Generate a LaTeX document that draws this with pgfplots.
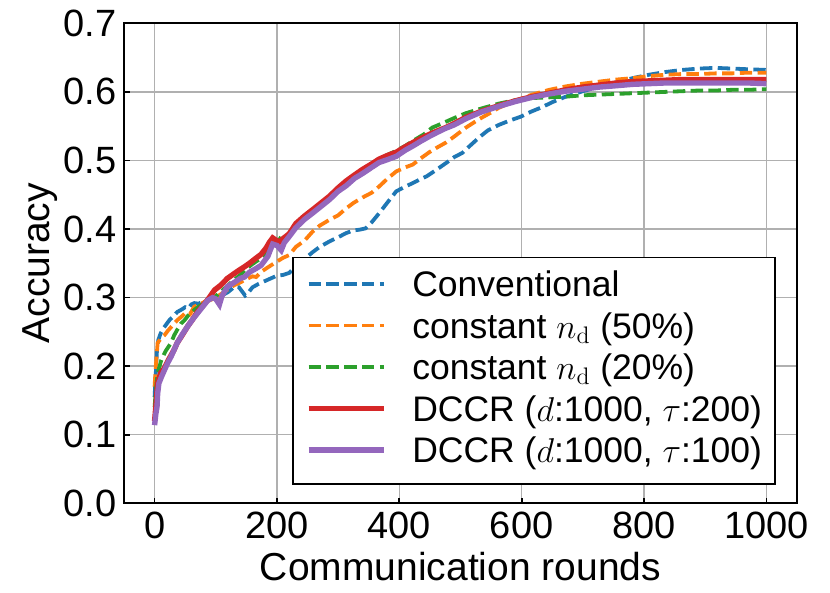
\documentclass[border=0pt]{standalone}
\usepackage{pgfplots}
\pgfplotsset{compat=1.18}
\usepackage[no-math]{fontspec}
\setmainfont{Liberation Sans}
\definecolor{tabblue}{HTML}{1F77B4}
\definecolor{taborange}{HTML}{FF7F0E}
\definecolor{tabgreen}{HTML}{2CA02C}
\definecolor{tabred}{HTML}{D62728}
\definecolor{tabpurple}{HTML}{9467BD}
\definecolor{gridgray}{HTML}{B0B0B0}
\begin{document}
\begin{tikzpicture}
\useasboundingbox (-62bp,-44.85bp) rectangle (353bp,251.65bp);
\begin{axis}[
  scale only axis,
  width=336.5bp, height=240bp,
  xmin=-50, xmax=1050, ymin=0, ymax=0.7,
  xtick={0,200,400,600,800,1000},
  ytick={0,0.1,0.2,0.3,0.4,0.5,0.6,0.7},
  xtick pos=lower, ytick pos=left,
  tick align=inside,
  major tick length=2.8bp,
  every tick/.style={black, line width=0.9bp},
  axis line style={black, line width=1bp},
  grid=major,
  major grid style={gridgray, line width=0.75bp},
  tick label style={font=\fontsize{19bp}{22bp}\selectfont},
  xticklabel style={anchor=north, inner sep=0pt, yshift=-4.2bp},
  yticklabel style={anchor=east, inner sep=0pt, xshift=-3.5bp},
  /pgf/number format/assume math mode=true,
  /pgf/number format/1000 sep={},
  yticklabel style={/pgf/number format/.cd, fixed, fixed zerofill, precision=1},
  every axis x label/.style={at={(axis description cs:0.5,-0.1598)}, anchor=base, font=\fontsize{19.5bp}{22bp}\selectfont},
  every axis y label/.style={at={(axis description cs:-0.110,0.5)}, anchor=base, rotate=90, font=\fontsize{19.5bp}{22bp}\selectfont},
  xlabel={Communication rounds},
  ylabel={Accuracy},
  legend cell align=left,
  legend style={
    at={(axis description cs:0.2492,0.038)}, anchor=south west,
    draw=black, line width=0.9bp, fill=white,
    font=\fontsize{17.75bp}{20bp}\selectfont,
    inner xsep=6.65bp, inner ysep=4.8bp,
    column sep=13bp, row sep=0pt,
    cells={anchor=base west},
    nodes={inner sep=0pt, text height=14.8bp, text depth=5.95bp},
  },
  legend image code/.code={\draw[#1] (0bp,6.3bp) -- (37.5bp,6.3bp);},
  dashline/.style={line width=1.9bp, dash pattern=on 6.2bp off 2.7bp},
  solidline/.style={line width=2.7bp},
]
\addplot[tabblue, dashline] coordinates {
(0,0.155) (2,0.19) (4,0.225) (6,0.238) (10,0.248) (15,0.256) (20,0.262) (25,0.268)
(30,0.272) (37,0.279) (45,0.283) (50,0.286) (55,0.284) (60,0.290) (65,0.292) (72,0.291)
(80,0.295) (90,0.297) (100,0.300) (110,0.303) (120,0.308) (131,0.316) (138,0.315)
(143,0.309) (148,0.303) (153,0.307) (160,0.315) (170,0.320) (180,0.324) (190,0.328)
(200,0.332) (210,0.333) (220,0.336) (230,0.345) (240,0.352) (250,0.360) (258,0.366)
(270,0.374) (286,0.382) (300,0.388) (313,0.394) (325,0.398) (335,0.399) (345,0.401)
(355,0.410) (367,0.423) (380,0.438) (395,0.455) (410,0.462) (422,0.467) (435,0.473)
(445,0.477) (460,0.486) (476,0.496) (490,0.505) (503,0.511) (515,0.521) (531,0.534)
(545,0.544) (563,0.552) (580,0.558) (599,0.564) (615,0.571) (634,0.578) (650,0.585)
(672,0.593) (700,0.601) (727,0.608) (755,0.614) (781,0.620) (808,0.625) (835,0.629)
(862,0.632) (890,0.634) (917,0.635) (944,0.634) (970,0.633) (1000,0.632)
};
\addlegendentry{Conventional}
\addplot[taborange, dashline] coordinates {
(0,0.170) (2,0.200) (5,0.234) (10,0.240) (16,0.245) (22,0.252) (30,0.260) (37,0.267)
(45,0.273) (52,0.279) (58,0.276) (65,0.287) (72,0.289) (82,0.294) (90,0.296) (100,0.300)
(110,0.306) (120,0.312) (130,0.318) (140,0.322) (150,0.327) (160,0.331) (166,0.330)
(175,0.338) (185,0.344) (199,0.352) (210,0.358) (220,0.362) (231,0.374) (245,0.383)
(258,0.396) (270,0.405) (285,0.413) (300,0.420) (313,0.430) (325,0.438) (340,0.446)
(355,0.453) (367,0.462) (380,0.473) (395,0.484) (410,0.490) (422,0.494) (435,0.503)
(449,0.512) (462,0.519) (476,0.526) (490,0.535) (509,0.548) (530,0.560) (550,0.570)
(563,0.577) (590,0.587) (617,0.596) (645,0.603) (672,0.608) (700,0.612) (727,0.615)
(755,0.618) (781,0.620) (808,0.623) (835,0.625) (862,0.626) (890,0.626) (917,0.627)
(944,0.627) (970,0.628) (1000,0.628)
};
\addlegendentry{constant $n_\mathrm{d}$ (50\%)}
\addplot[tabgreen, dashline] coordinates {
(0,0.140) (2,0.165) (5,0.190) (11,0.209) (18,0.222) (27,0.234) (32,0.245) (37,0.253)
(43,0.262) (49,0.267) (55,0.274) (65,0.282) (72,0.287) (82,0.292) (90,0.297) (100,0.302)
(110,0.310) (120,0.318) (130,0.326) (140,0.333) (150,0.342) (160,0.349) (170,0.355)
(180,0.362) (190,0.371) (200,0.378) (205,0.386) (210,0.383) (220,0.392) (231,0.404)
(245,0.415) (258,0.425) (272,0.436) (286,0.446) (300,0.457) (313,0.467) (327,0.477)
(340,0.486) (355,0.494) (367,0.502) (380,0.508) (395,0.514) (411,0.522) (425,0.530)
(440,0.538) (454,0.548) (470,0.554) (490,0.562) (509,0.569) (535,0.576) (563,0.583)
(590,0.588) (617,0.591) (645,0.592) (672,0.593) (700,0.595) (727,0.596) (755,0.597)
(781,0.598) (808,0.599) (835,0.600) (862,0.601) (890,0.602) (917,0.602) (944,0.603)
(970,0.603) (1000,0.604)
};
\addlegendentry{constant $n_\mathrm{d}$ (20\%)}
\addplot[tabred, solidline] coordinates {
(0,0.120) (2,0.140) (5,0.175) (10,0.190) (16,0.197) (22,0.208) (27,0.216) (32,0.224)
(37,0.234) (45,0.245) (54,0.258) (62,0.268) (70,0.279) (78,0.287) (87,0.297) (98,0.311)
(108,0.318) (119,0.328) (130,0.335) (140,0.341) (147,0.345) (155,0.350) (165,0.357)
(174,0.363) (182,0.372) (188,0.381) (193,0.387) (198,0.384) (204,0.381) (210,0.386)
(220,0.393) (231,0.408) (245,0.419) (258,0.428) (272,0.438) (286,0.448) (300,0.460)
(313,0.470) (327,0.479) (340,0.487) (355,0.495) (367,0.502) (380,0.507) (395,0.512)
(410,0.520) (422,0.526) (435,0.532) (449,0.538) (462,0.543) (476,0.548) (490,0.554)
(509,0.563) (535,0.572) (563,0.580) (590,0.587) (617,0.593) (645,0.598) (672,0.603)
(700,0.607) (727,0.610) (755,0.613) (781,0.615) (808,0.616) (835,0.617) (862,0.618)
(890,0.618) (917,0.618) (944,0.618) (970,0.618) (1000,0.618)
};
\addlegendentry{DCCR ($d$:1000, $\tau$:200)}
\addplot[tabpurple, solidline] coordinates {
(0,0.114) (2,0.130) (4,0.141) (5,0.160) (7,0.175) (12,0.186) (16,0.194) (21,0.204)
(27,0.214) (32,0.224) (37,0.234) (45,0.246) (54,0.258) (62,0.268) (70,0.277) (78,0.286)
(87,0.296) (95,0.300) (100,0.298) (106,0.290) (110,0.302) (119,0.316) (130,0.322)
(140,0.328) (147,0.330) (155,0.337) (165,0.342) (174,0.347) (185,0.360) (193,0.378)
(200,0.376) (204,0.372) (207,0.369) (212,0.380) (220,0.389) (231,0.402) (245,0.414)
(258,0.423) (272,0.433) (286,0.443) (300,0.455) (313,0.463) (327,0.474) (340,0.481)
(355,0.490) (367,0.497) (380,0.501) (395,0.506) (410,0.515) (422,0.521) (435,0.528)
(449,0.535) (462,0.541) (476,0.547) (490,0.552) (509,0.561) (535,0.571) (563,0.579)
(590,0.586) (617,0.592) (645,0.597) (672,0.601) (700,0.604) (727,0.607) (755,0.609)
(781,0.611) (808,0.612) (835,0.613) (862,0.613) (890,0.613) (917,0.613) (944,0.613)
(970,0.613) (1000,0.612)
};
\addlegendentry{DCCR ($d$:1000, $\tau$:100)}
\end{axis}
\end{tikzpicture}
\end{document}
